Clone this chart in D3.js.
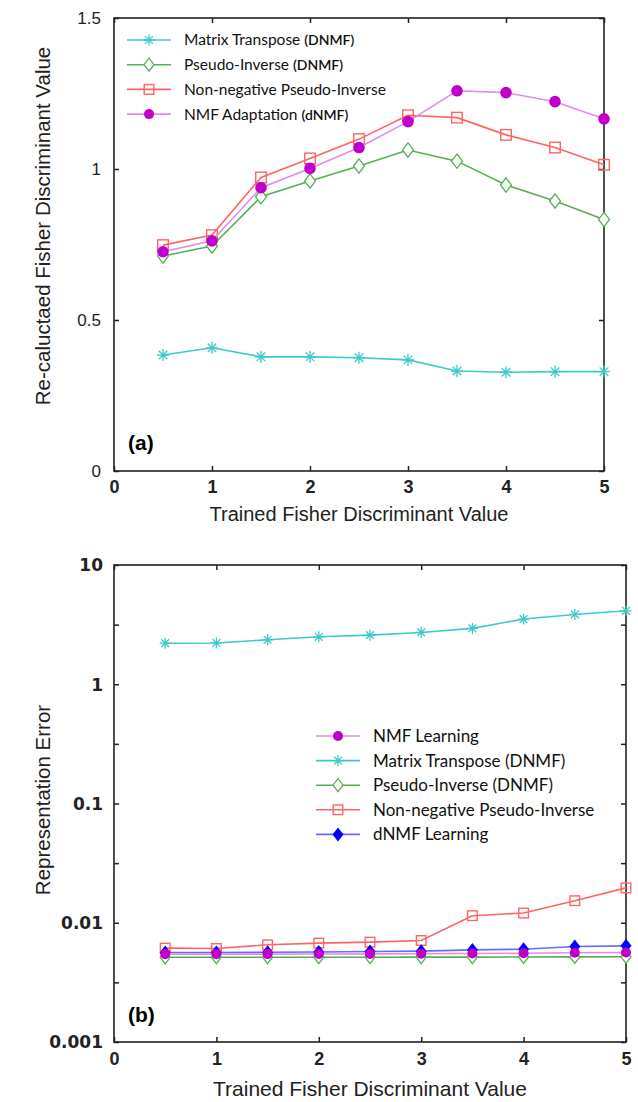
<!DOCTYPE html>
<head>
    <meta charset="UTF-8">
    <title>Fisher discriminant charts</title>
    <style>
        body { margin: 0; background: #fff; }
        svg { display: block; }
    </style>
</head>
<body>
    <script src="https://d3js.org/d3.v7.min.js"></script>
    <script>
        // x 值 (Trained Fisher Discriminant Value)
        var xValues = [0.5, 1, 1.5, 2, 2.5, 3, 3.5, 4, 4.5, 5]

        // (a) Re-calculated Fisher Discriminant Value
        var transposeA = [0.384, 0.408, 0.378, 0.378, 0.375, 0.368, 0.331, 0.327, 0.329, 0.329]
        var pseudoA = [0.712, 0.745, 0.908, 0.960, 1.010, 1.063, 1.026, 0.947, 0.894, 0.833]
        var nonnegA = [0.748, 0.781, 0.972, 1.035, 1.099, 1.178, 1.170, 1.113, 1.071, 1.014]
        var adaptA = [0.726, 0.762, 0.938, 1.002, 1.071, 1.157, 1.259, 1.253, 1.223, 1.166]

        // (b) Representation Error
        var nmfB = [0.00546, 0.00546, 0.00546, 0.00547, 0.00548, 0.0055, 0.00552, 0.00555, 0.0056, 0.00563]
        var transposeB = [2.21, 2.22, 2.36, 2.5, 2.58, 2.72, 2.94, 3.52, 3.85, 4.13]
        var pseudoB = [0.00513, 0.00514, 0.00514, 0.00514, 0.00514, 0.00515, 0.00515, 0.00516, 0.00517, 0.00518]
        var nonnegB = [0.00613, 0.00608, 0.00653, 0.00675, 0.00688, 0.0071, 0.01146, 0.01206, 0.0153, 0.0196]
        var dnmfB = [0.00563, 0.00563, 0.00565, 0.00568, 0.00574, 0.00578, 0.00592, 0.006, 0.00632, 0.0064]

        var xTicks = [0, 1, 2, 3, 4, 5]
        var xLabels = ["0", "1", "2", "3", "4", "5"]
        var yTicksA = [0, 0.5, 1, 1.5]
        var yLabelsA = ["0", "0.5", "1", "1.5"]
        var yTicksB = [0.001, 0.01, 0.1, 1, 10]
        var yLabelsB = ["0.001", "0.01", "0.1", "1", "10"]

        var width = 638
        var height = 1102

        var svg = d3.select("body").append("svg")
            .attr("width", width)
            .attr("height", height)

        // 顏色
        var col = {
            cyan: "#3fcaca", green: "#55b055", red: "#ff6464",
            violetLine: "#e48ae8", violet: "#c000c8",
            blueLine: "#6a6aff", blue: "#0000ff"
        }

        function labelOf(ticks, labels) {
            return function(d) { var k = ticks.indexOf(d); return k < 0 ? "" : labels[k] }
        }

        // -- 標記 --
        function marker(g, type, x, y, big) {
            var s = big ? 1.1 : 1
            if (type == "star") {
                var r = 5.5 * s
                var p = ""
                for (var k = 0; k < 4; k++) {
                    var a = k * Math.PI / 4
                    p += "M" + (x - r * Math.cos(a)) + "," + (y - r * Math.sin(a)) +
                        "L" + (x + r * Math.cos(a)) + "," + (y + r * Math.sin(a))
                }
                g.append("path").attr("d", p).attr("stroke", col.cyan).attr("stroke-width", 1.3).attr("fill", "none")
            } else if (type == "diamond") {
                var w = 5 * s, h = 6.5 * s
                g.append("path")
                    .attr("d", "M" + x + "," + (y - h) + "L" + (x + w) + "," + y + "L" + x + "," + (y + h) + "L" + (x - w) + "," + y + "Z")
                    .attr("fill", "#fff").attr("stroke", col.green).attr("stroke-width", 1.3)
            } else if (type == "square") {
                var q = 4.8 * s
                g.append("rect").attr("x", x - q).attr("y", y - q).attr("width", 2 * q).attr("height", 2 * q)
                    .attr("fill", "none").attr("stroke", col.red).attr("stroke-width", 1.4)
            } else if (type == "dot") {
                g.append("circle").attr("cx", x).attr("cy", y).attr("r", big ? 5.8 : 5).attr("fill", col.violet)
            } else if (type == "bdiamond") {
                g.append("path")
                    .attr("d", "M" + x + "," + (y - 7) + "L" + (x + 5.5) + "," + y + "L" + x + "," + (y + 7) + "L" + (x - 5.5) + "," + y + "Z")
                    .attr("fill", col.blue)
            }
        }

        function drawSeries(g, xs, ys, vals, lineColor, type, big) {
            var line = d3.line()
                .x(function(d, i) { return xs(xValues[i]) })
                .y(function(d) { return ys(d) })
            g.append("path").datum(vals)
                .attr("d", line)
                .attr("fill", "none")
                .attr("stroke", lineColor)
                .attr("stroke-width", 1.6)
            vals.forEach(function(d, i) {
                marker(g, type, xs(xValues[i]), ys(d), big)
            })
        }

        function legend(g, items, x0, y0, step, fontSize) {
            items.forEach(function(it, i) {
                var y = y0 + i * step
                g.append("line").attr("x1", x0).attr("x2", x0 + 44).attr("y1", y).attr("y2", y)
                    .attr("stroke", it.line).attr("stroke-width", 1.6)
                marker(g, it.type, x0 + 22, y, false)
                var t = g.append("text").attr("x", x0 + 57).attr("y", y).attr("dy", "0.35em")
                    .attr("font-family", "Lato, 'Open Sans', sans-serif")
                    .attr("font-size", fontSize).attr("fill", "#111")
                t.append("tspan").text(it.name)
                if (it.tag) t.append("tspan").attr("font-size", fontSize - 1.5).attr("font-weight", 600).text(it.tag)
            })
        }

        function frame(g, x0, x1, y0, y1) {
            g.append("rect").attr("x", x0).attr("y", y0).attr("width", x1 - x0).attr("height", y1 - y0)
                .attr("fill", "none").attr("stroke", "#222").attr("stroke-width", 1.6)
        }

        // ========== (a) ==========
        var a = { left: 114, right: 604, top: 18, bottom: 471 }
        var xA = d3.scaleLinear().domain([0, 5]).range([a.left, a.right])
        var yA = d3.scaleLinear().domain([0, 1.5]).range([a.bottom, a.top])
        var gA = svg.append("g")

        // 座標軸 (刻度向內)
        var axA = [
            gA.append("g").attr("transform", "translate(0," + a.bottom + ")").call(d3.axisBottom(xA).tickValues(xTicks).tickSize(-5).tickFormat(labelOf(xTicks, xLabels))),
            gA.append("g").attr("transform", "translate(0," + a.top + ")").call(d3.axisTop(xA).tickValues(xTicks).tickSize(-5).tickFormat("")),
            gA.append("g").attr("transform", "translate(" + a.left + ",0)").call(d3.axisLeft(yA).tickValues(yTicksA).tickSize(-5).tickFormat(labelOf(yTicksA, yLabelsA))),
            gA.append("g").attr("transform", "translate(" + a.right + ",0)").call(d3.axisRight(yA).tickValues(yTicksA).tickSize(-5).tickFormat(""))
        ]
        axA.forEach(function(ax) {
            ax.select(".domain").remove()
            ax.selectAll("line").attr("stroke", "#222").attr("stroke-width", 1.5)
        })
        axA[0].selectAll("text").attr("y", 22).attr("dy", 0)
            .attr("font-family", "Liberation Sans, Arial, sans-serif").attr("font-size", 18).attr("font-weight", "bold").attr("fill", "#222")
        axA[2].selectAll("text").attr("x", -13).attr("dy", "0.35em")
            .attr("font-family", "Liberation Sans, Arial, sans-serif").attr("font-size", 17).attr("fill", "#222")
        frame(gA, a.left, a.right, a.top, a.bottom)

        drawSeries(gA, xA, yA, transposeA, col.cyan, "star", true)
        drawSeries(gA, xA, yA, pseudoA, col.green, "diamond", true)
        drawSeries(gA, xA, yA, nonnegA, col.red, "square", true)
        drawSeries(gA, xA, yA, adaptA, col.violetLine, "dot", true)

        legend(gA, [
            { name: "Matrix Transpose ", tag: "(DNMF)", line: col.cyan, type: "star" },
            { name: "Pseudo-Inverse  ", tag: "(DNMF)", line: col.green, type: "diamond" },
            { name: "Non-negative Pseudo-Inverse", line: col.red, type: "square" },
            { name: "NMF Adaptation ", tag: "(dNMF)", line: col.violetLine, type: "dot" }
        ], 127, 40, 24.7, 15.5)

        gA.append("text").attr("x", 128).attr("y", 450).text("(a)")
            .attr("font-family", "Liberation Sans, Arial, sans-serif").attr("font-size", 21).attr("font-weight", "bold")
        gA.append("text").attr("x", (a.left + a.right) / 2).attr("y", 521).attr("text-anchor", "middle")
            .text("Trained Fisher Discriminant Value")
            .attr("font-family", "Liberation Sans, Arial, sans-serif").attr("font-size", 20).attr("fill", "#222")
        gA.append("text").attr("transform", "translate(50,226) rotate(-90)").attr("text-anchor", "middle")
            .text("Re-caluctaed Fisher Discriminant Value")
            .attr("font-family", "Liberation Sans, Arial, sans-serif").attr("font-size", 20.5).attr("fill", "#222")

        // ========== (b) ==========
        var b = { left: 114, right: 626, top: 565, bottom: 1042 }
        var xB = d3.scaleLinear().domain([0, 5]).range([b.left, b.right])
        var yB = d3.scaleLog().domain([0.001, 10]).range([b.bottom, b.top])
        var gB = svg.append("g")

        // 半個數量級的小刻度
        var halfTicks = d3.range(-3, 1).map(function(e) { return Math.pow(10, e + 0.5) })
        var yTickAllB = yTicksB.concat(halfTicks)

        var axB = [
            gB.append("g").attr("transform", "translate(0," + b.bottom + ")").call(d3.axisBottom(xB).tickValues(xTicks).tickSize(-5).tickFormat(labelOf(xTicks, xLabels))),
            gB.append("g").attr("transform", "translate(0," + b.top + ")").call(d3.axisTop(xB).tickValues(xTicks).tickSize(-5).tickFormat("")),
            gB.append("g").attr("transform", "translate(" + b.left + ",0)").call(d3.axisLeft(yB).tickValues(yTickAllB).tickSize(-5)
                .tickFormat(labelOf(yTicksB, yLabelsB))),
            gB.append("g").attr("transform", "translate(" + b.right + ",0)").call(d3.axisRight(yB).tickValues(yTickAllB).tickSize(-5).tickFormat(""))
        ]
        axB.forEach(function(ax) {
            ax.select(".domain").remove()
            ax.selectAll("line").attr("stroke", "#222").attr("stroke-width", 1.5)
        })
        axB[0].selectAll("text").attr("y", 23).attr("dy", 0)
            .attr("font-family", "Liberation Sans, Arial, sans-serif").attr("font-size", 18).attr("font-weight", "bold").attr("fill", "#222")
        axB[2].selectAll("text").attr("x", -11).attr("dy", "0.35em")
            .attr("font-family", "DejaVu Sans, Verdana, sans-serif").attr("font-size", 17).attr("font-weight", "bold").attr("fill", "#222")
        frame(gB, b.left, b.right, b.top, b.bottom)

        drawSeries(gB, xB, yB, transposeB, col.cyan, "star", false)
        drawSeries(gB, xB, yB, pseudoB, col.green, "diamond", false)
        drawSeries(gB, xB, yB, nonnegB, col.red, "square", false)
        drawSeries(gB, xB, yB, dnmfB, col.blueLine, "bdiamond", false)
        drawSeries(gB, xB, yB, nmfB, col.violetLine, "dot", false)

        legend(gB, [
            { name: "NMF Learning", line: col.violetLine, type: "dot" },
            { name: "Matrix Transpose (DNMF)", line: col.cyan, type: "star" },
            { name: "Pseudo-Inverse (DNMF)", line: col.green, type: "diamond" },
            { name: "Non-negative Pseudo-Inverse", line: col.red, type: "square" },
            { name: "dNMF Learning", line: col.blueLine, type: "bdiamond" }
        ], 316, 736, 24.6, 17)

        gB.append("text").attr("x", 128).attr("y", 1022).text("(b)")
            .attr("font-family", "Liberation Sans, Arial, sans-serif").attr("font-size", 21).attr("font-weight", "bold")
        gB.append("text").attr("x", 370).attr("y", 1096).attr("text-anchor", "middle")
            .text("Trained Fisher Discriminant Value")
            .attr("font-family", "Liberation Sans, Arial, sans-serif").attr("font-size", 21).attr("fill", "#222")
        gB.append("text").attr("transform", "translate(50,800) rotate(-90)").attr("text-anchor", "middle")
            .text("Representation Error")
            .attr("font-family", "Liberation Sans, Arial, sans-serif").attr("font-size", 20.5).attr("fill", "#222")
    </script>
</body>
</html>
